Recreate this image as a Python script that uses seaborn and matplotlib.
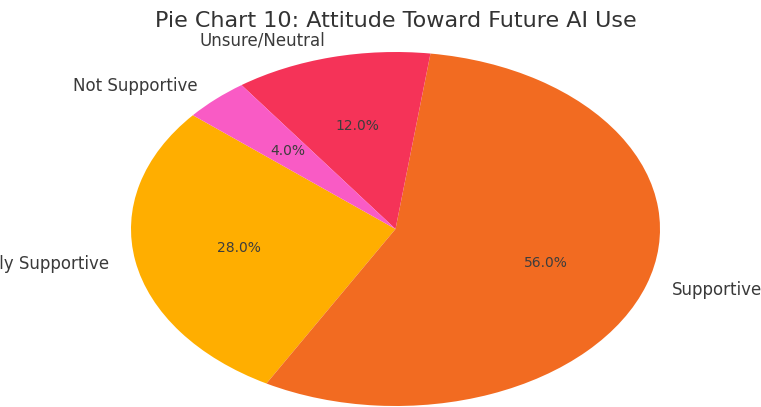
import matplotlib
matplotlib.use("Agg")
import matplotlib.pyplot as plt
import seaborn as sns

categories = ["Highly Supportive", "Supportive", "Unsure/Neutral", "Not Supportive"]
shares = [28, 56, 12, 4]
colors = ["#FFAE00", "#F26B21", "#F53358", "#F95BC5"]
title = "Pie Chart 10: Attitude Toward Future AI Use"

sns.set_theme(style="white")
plt.rcParams["font.family"] = ["DejaVu Sans"]

W, H = 761, 407
fig = plt.figure(figsize=(W / 100, H / 100), dpi=100)

# ellipse centre and radii in pixels
cx, cy, rx, ry = 395.5, 229.0, 264.5, 177.0
ax = fig.add_axes([(cx - rx) / W, (H - cy - ry) / H, 2 * rx / W, 2 * ry / H])

wedges, texts, autotexts = ax.pie(
    shares,
    labels=categories,
    colors=colors,
    startangle=140,
    autopct="%1.1f%%",
    labeldistance=1.1,
    pctdistance=0.6,
    wedgeprops={"linewidth": 0, "edgecolor": "none"},
    textprops={"color": "#3a3a3a"},
)
for t in texts:
    t.set_fontsize(12)
    t.set_clip_on(False)
for t in autotexts:
    t.set_fontsize(10)
    t.set_color("#3d3d3d")

ax.set_aspect("auto")
ax.set_xlim(-1, 1)
ax.set_ylim(-1, 1)
ax.axis("off")

fig.text(cx / W, 1 - 27 / H, title, ha="center", va="baseline",
         fontsize=16, color="#333333")

fig.savefig("out.png", dpi=100)
